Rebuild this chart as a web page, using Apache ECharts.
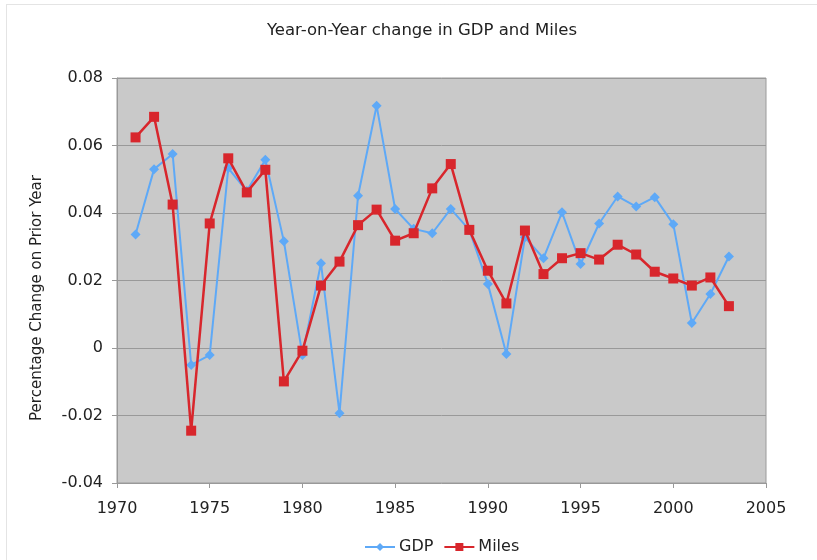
<!DOCTYPE html>
<html><head><meta charset="utf-8">
<script src="https://cdn.jsdelivr.net/npm/echarts@6/dist/echarts.min.js"></script>
<style>html,body{margin:0;padding:0;background:#fff}#c{width:817px;height:560px}</style>
</head><body><div id="c"></div>
<script>
var years = [1971,1972,1973,1974,1975,1976,1977,1978,1979,1980,1981,1982,1983,1984,1985,1986,1987,1988,1989,1990,1991,1992,1993,1994,1995,1996,1997,1998,1999,2000,2001,2002,2003];
var gdp = [0.0336,0.0530,0.0575,-0.0050,-0.0021,0.0533,0.0465,0.0558,0.0316,-0.0021,0.0251,-0.0193,0.0451,0.0718,0.0412,0.0353,0.0340,0.0412,0.0350,0.0190,-0.0018,0.0328,0.0266,0.0402,0.0249,0.0369,0.0449,0.0419,0.0447,0.0367,0.0074,0.0160,0.0271];
var miles = [0.0624,0.0685,0.0425,-0.0245,0.0369,0.0562,0.0461,0.0528,-0.0099,-0.0008,0.0185,0.0256,0.0364,0.0410,0.0318,0.0340,0.0473,0.0545,0.0350,0.0229,0.0132,0.0348,0.0219,0.0266,0.0281,0.0262,0.0306,0.0277,0.0226,0.0206,0.0185,0.0209,0.0124];
var yTicks = ['-0.04','-0.02','0','0.02','0.04','0.06','0.08'];

function pairs(v){ return years.map(function(y,i){ return [y, v[i]]; }); }
var chart = echarts.init(document.getElementById('c'), null, {renderer:'canvas'});
var font = 'DejaVu Sans, Verdana, sans-serif';
chart.setOption({
  animation:false,
  backgroundColor:'#fff',
  title:{text:'Year-on-Year change in GDP and Miles', left:417, top:17, textAlign:'center',
    textStyle:{fontFamily:font, fontSize:16.5, fontWeight:'normal', color:'#222'}},
  graphic:[
    {type:'rect', shape:{x:6.5,y:4.5,width:900,height:700}, style:{fill:null, stroke:'#c8c8c8', lineWidth:1, lineDash:[1,1]}, silent:true, z:-1},
    {type:'text', x:37, y:298, rotation:Math.PI/2, style:{text:'Percentage Change on Prior Year', fontFamily:font, fontSize:15, fill:'#222', align:'center', verticalAlign:'middle'}}
  ],
  legend:{bottom:0, left:359, itemWidth:30, itemHeight:10, itemGap:10,
    textStyle:{fontFamily:font, fontSize:16, color:'#222', padding:[0,0,0,-1]},
    data:['GDP','Miles']},
  grid:{left:117, right:51, top:78, bottom:77, show:true, backgroundColor:'#c9c9c9', borderColor:'#9a9a9a', borderWidth:1},
  xAxis:{type:'value', min:1970, max:2005, interval:5,
    axisLine:{show:false, onZero:false}, axisTick:{show:true, length:5, lineStyle:{color:'#999'}},
    splitLine:{show:false},
    axisLabel:{fontFamily:font, fontSize:16, color:'#222', margin:18, formatter:function(v){return String(v);}}},
  yAxis:{type:'value', min:-0.04, max:0.08, interval:0.02,
    axisLine:{show:true, lineStyle:{color:'#999'}}, axisTick:{show:true, length:5, lineStyle:{color:'#999'}},
    splitLine:{show:true, lineStyle:{color:'#999', width:1}},
    axisLabel:{fontFamily:font, fontSize:16, color:'#222', margin:14,
      formatter:function(v){ var s = Math.round(v*100)/100; return s===0?'0':s.toFixed(2); }}},
  series:[
    {name:'GDP', type:'line', data:pairs(gdp), symbol:'diamond', symbolSize:10,
      itemStyle:{color:'#5ea9f7'}, lineStyle:{color:'#5ea9f7', width:2}, z:2},
    {name:'Miles', type:'line', data:pairs(miles), symbol:'rect', symbolSize:10,
      itemStyle:{color:'#d8262c'}, lineStyle:{color:'#d8262c', width:2.5}, z:3}
  ]
});
</script></body></html>
